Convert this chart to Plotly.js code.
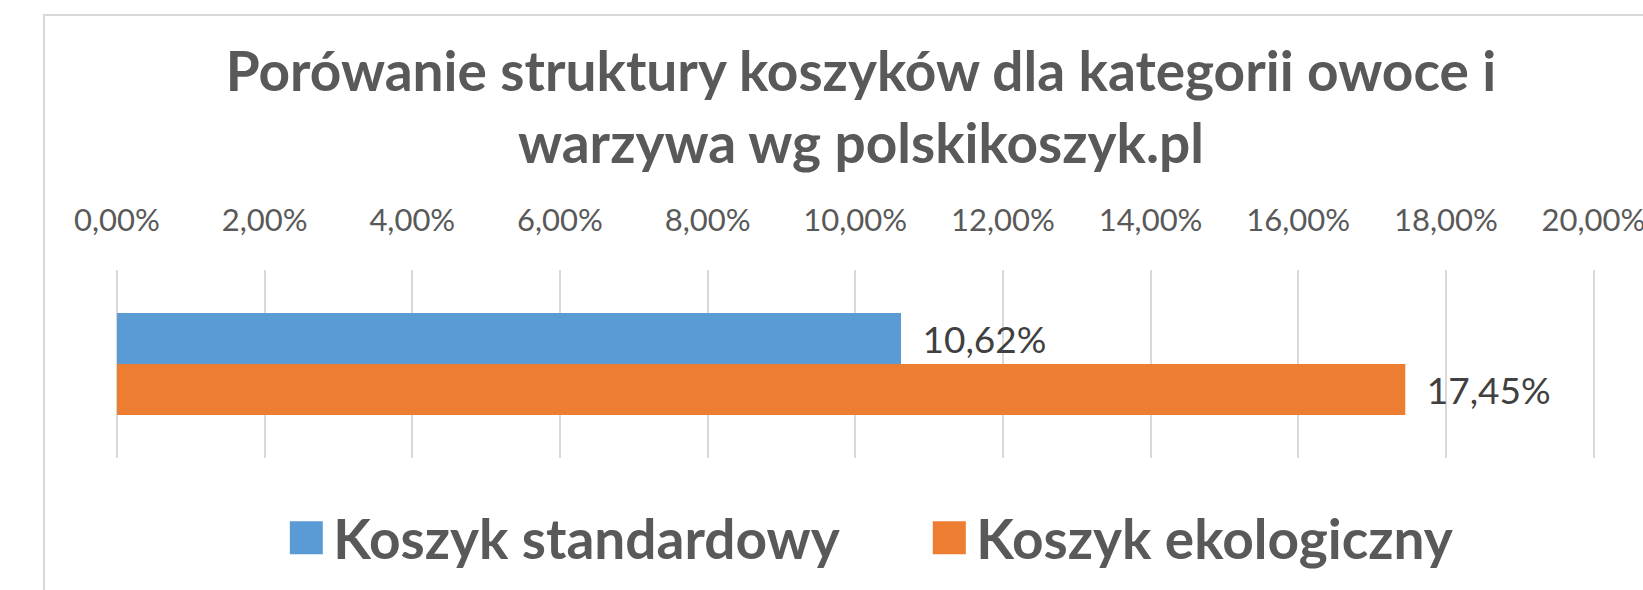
<!DOCTYPE html>
<html>
<head>
<meta charset="utf-8">
<script src="https://cdn.plot.ly/plotly-3.0.1.min.js"></script>
<style>
  html, body { margin: 0; padding: 0; background: #ffffff; }
  #frame { position: absolute; left: 43px; top: 14px; width: 1700px; height: 700px;
           border: 2px solid #d9d9d9; box-sizing: border-box; z-index: 0; }
  #chart { position: absolute; left: 0; top: 0; width: 1643px; height: 590px; z-index: 1; }
</style>
</head>
<body>
<div id="frame"></div>
<div id="chart"></div>
<script>
const categories = ['owoce i warzywa'];
const seriesNames = ['Koszyk standardowy', 'Koszyk ekologiczny'];
const standardValues = [0.1062];
const ecoValues = [0.1745];
const tickValues = [0, 0.02, 0.04, 0.06, 0.08, 0.10, 0.12, 0.14, 0.16, 0.18, 0.20];
const titleText = 'Porówanie struktury koszyków dla kategorii owoce i<br>warzywa wg polskikoszyk.pl';

const FONT = 'Lato, "Open Sans", sans-serif';
const labelFont = { family: FONT, size: 37, color: '#404040' };

const traces = [
  {
    type: 'bar', orientation: 'h', name: seriesNames[0],
    x: standardValues, y: categories,
    marker: { color: '#5B9BD5' },
    texttemplate: '\u2002%{x:.2%}', textposition: 'outside', cliponaxis: false,
    textfont: labelFont, hoverinfo: 'skip'
  },
  {
    type: 'bar', orientation: 'h', name: seriesNames[1],
    x: ecoValues, y: categories,
    marker: { color: '#ED7D31' },
    texttemplate: '\u2002%{x:.2%}', textposition: 'outside', cliponaxis: false,
    textfont: labelFont, hoverinfo: 'skip'
  }
];

const layout = {
  width: 1643, height: 590,
  paper_bgcolor: 'rgba(0,0,0,0)', plot_bgcolor: 'rgba(0,0,0,0)',
  separators: ', ',
  margin: { l: 117, r: 48, t: 270, b: 132 },
  title: {
    text: titleText,
    font: { family: FONT, size: 55, color: '#595959', weight: 'bold' },
    xref: 'container', x: 0.524, xanchor: 'center',
    yref: 'container', y: 0.845, yanchor: 'top'
  },
  xaxis: {
    side: 'top', range: [0, 0.2002], tickvals: tickValues, tickformat: '.2%',
    ticklabeloverflow: 'allow',
    showgrid: true, gridcolor: '#d9d9d9', gridwidth: 2,
    zeroline: true, zerolinecolor: '#d9d9d9', zerolinewidth: 2,
    showline: false, ticks: 'outside', ticklen: 26, tickcolor: 'rgba(0,0,0,0)',
    tickfont: { family: FONT, size: 31, color: '#595959' },
    fixedrange: true
  },
  yaxis: {
    autorange: 'reversed', showticklabels: false, showgrid: false,
    zeroline: false, showline: false, ticks: '', fixedrange: true
  },
  barmode: 'group', bargap: 0.457, bargroupgap: 0,
  showlegend: true,
  legend: {
    orientation: 'h', xref: 'container', x: 0.170, xanchor: 'left',
    yref: 'container', y: 0.088, yanchor: 'middle',
    itemwidth: 44, entrywidth: 584, entrywidthmode: 'pixels',
    font: { family: FONT, size: 55, color: '#595959', weight: 'bold' },
    bgcolor: 'rgba(0,0,0,0)'
  }
};

Plotly.newPlot('chart', traces, layout, { displayModeBar: false, staticPlot: true }).then(function (gd) {
  // enlarge the legend colour squares to Excel-like size
  gd.querySelectorAll('.legend .legendpoints path').forEach(function (p) {
    const t = p.getAttribute('transform') || '';
    p.setAttribute('transform', t + ' scale(2.75)');
  });
});
</script>
</body>
</html>
